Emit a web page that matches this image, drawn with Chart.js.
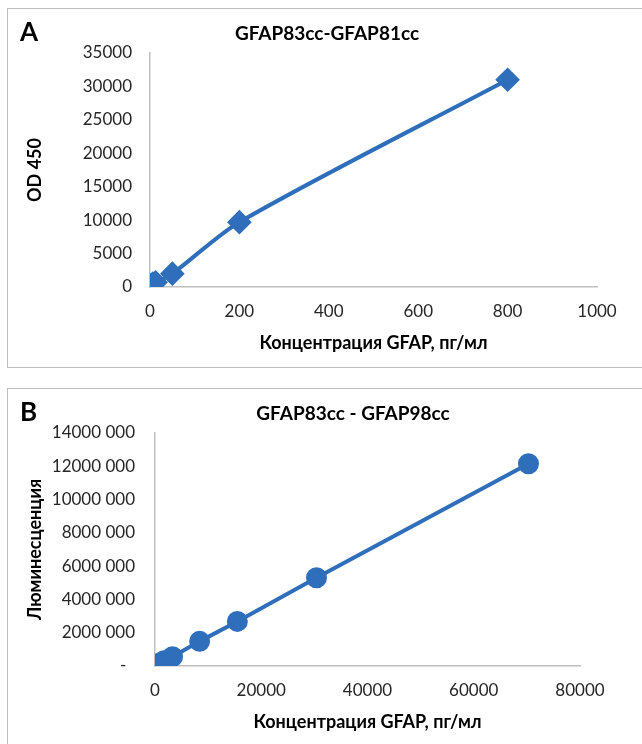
<!DOCTYPE html>
<html>
<head>
<meta charset="utf-8">
<script src="https://cdn.jsdelivr.net/npm/chart.js@4.4.1/dist/chart.umd.min.js"></script>
<style>
  body { margin: 0; background: #fff; overflow: hidden; }
  .box { position: absolute; left: 7px; border: 1px solid #bfbfbf; background: #fff; }
  #boxA { top: 8px; width: 638px; height: 358px; }
  #boxB { top: 388px; width: 690px; height: 358px; }
</style>
</head>
<body>
<div class="box" id="boxA"><canvas id="chartA" width="638" height="358"></canvas></div>
<div class="box" id="boxB"><canvas id="chartB" width="690" height="358"></canvas></div>
<script>
// Panel A: GFAP83cc-GFAP81cc
const concA = [0, 6.25, 12.5, 50, 200, 800];
const odA = [300, 500, 700, 2000, 9700, 31000];
// Panel B: GFAP83cc - GFAP98cc
const concB = [0, 700, 1700, 3300, 8400, 15500, 30400, 70300];
const lumB = [20000, 150000, 320000, 560000, 1480000, 2680000, 5300000, 12150000];

const blue = '#2F6EBA';
const axisGray = '#bfbfbf';
const fontFam = "Lato, 'Open Sans', sans-serif";

// panel letter + chart title, title centred on the whole chart like Excel does
const panelHeader = {
    id: 'panelHeader',
    afterDraw(chart, args, opts) {
        const c = chart.ctx;
        c.save();
        c.fillStyle = '#000';
        c.textBaseline = 'alphabetic';
        c.textAlign = 'left';
        c.font = 'bold 26px ' + fontFam;
        c.fillText(opts.letter, 12, 32);
        c.textAlign = 'center';
        c.textBaseline = 'middle';
        c.font = 'bold 19px ' + fontFam;
        c.fillText(opts.title, chart.width / 2, 25);
        c.restore();
    }
};

function makeChart(id, letter, title, xs, ys, opt) {
    const pts = xs.map((x, i) => ({x: x, y: ys[i]}));
    return new Chart(document.getElementById(id).getContext('2d'), {
        type: 'scatter',
        data: {
            datasets: [{
                data: pts,
                showLine: true,
                borderColor: blue,
                backgroundColor: blue,
                borderWidth: 4,
                tension: opt.tension,
                pointStyle: opt.pointStyle,
                pointRadius: opt.pointRadius,
                pointHoverRadius: opt.pointRadius,
            }]
        },
        options: {
            responsive: false,
            animation: false,
            events: [],
            layout: { padding: { left: 0, right: opt.padRight, top: 44, bottom: 0 } },
            plugins: {
                legend: { display: false },
                tooltip: { enabled: false },
                title: { display: false },
                panelHeader: { letter: letter, title: title }
            },
            scales: {
                x: {
                    type: 'linear',
                    min: 0, max: opt.xMax,
                    grid: { display: false, drawTicks: false },
                    border: { display: true, color: axisGray, width: 1.5 },
                    ticks: {
                        stepSize: opt.xStep, padding: 14, maxRotation: 0, autoSkip: false,
                        color: '#262626', font: { family: fontFam, size: 17 },
                        callback: v => String(v)
                    },
                    title: {
                        display: true, text: 'Концентрация GFAP, пг/мл', color: '#000',
                        font: { family: fontFam, size: 18, weight: 'bold' },
                        padding: { top: 0, bottom: opt.xTitlePad }
                    },
                    afterFit: s => { s.height = opt.xHeight; }
                },
                y: {
                    type: 'linear',
                    min: 0, max: opt.yMax,
                    grid: { display: false, drawTicks: false },
                    border: { display: true, color: axisGray, width: 1.5 },
                    ticks: {
                        stepSize: opt.yStep, padding: opt.yTickPad, autoSkip: false,
                        color: '#262626', font: { family: fontFam, size: 17 },
                        callback: opt.yFmt
                    },
                    title: {
                        display: true, text: opt.yTitle, color: '#000',
                        font: { family: fontFam, size: 18, weight: 'bold' },
                        padding: { top: 16, bottom: 0 }
                    },
                    afterFit: s => { s.width = opt.yWidth; }
                }
            }
        },
        plugins: [panelHeader]
    });
}

const chartA = makeChart('chartA', 'A', 'GFAP83cc-GFAP81cc', concA, odA, {
    tension: 0.3, pointStyle: 'rectRot', pointRadius: 9.5,
    xMax: 1000, xStep: 200, yMax: 35000, yStep: 5000,
    yTitle: 'OD 450', yFmt: v => String(v),
    yWidth: 142, yTickPad: 18, padRight: 49, xHeight: 80, xTitlePad: 13
});

const chartB = makeChart('chartB', 'B', 'GFAP83cc - GFAP98cc', concB, lumB, {
    tension: 0, pointStyle: 'circle', pointRadius: 8.5,
    xMax: 80000, xStep: 20000, yMax: 14000000, yStep: 2000000,
    yTitle: 'Люминесценция',
    yFmt: v => v === 0 ? '-  ' : (v / 1000) + ' 000',
    yWidth: 147, yTickPad: 20, padRight: 118, xHeight: 81, xTitlePad: 14
});
</script>
</body>
</html>
